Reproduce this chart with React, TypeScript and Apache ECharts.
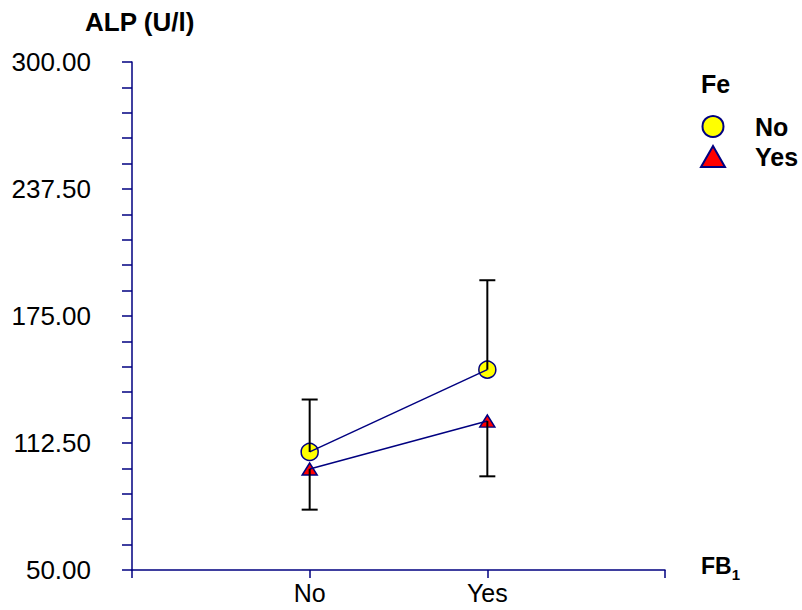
import React, { useEffect, useRef } from "react";
import * as echarts from "echarts";

const categories = ["No", "Yes"];
const seriesNames = ["No", "Yes"];
const meansNo = [108.1, 148.6];
const boundsNo = [133.9, 192.6];
const meansYes = [99.7, 123.3];
const boundsYes = [79.7, 96.1];
const yTickLabels = [50, 112.5, 175, 237.5, 300];

const NAVY = "#000080";
const FONT = "'Liberation Sans', Arial, sans-serif";

export default function App() {
  const ref = useRef<HTMLDivElement>(null);
  useEffect(() => {
    if (!ref.current) return;
    const chart = echarts.init(ref.current, null, { renderer: "svg" });
    const pos = categories.map((_, i) => i + 1);
    const pts = (vals: number[]) => vals.map((v, i) => [pos[i], v]);
    const errData = (means: number[], bounds: number[]) => means.map((m, i) => [pos[i], m, bounds[i]]);
    const renderErr = (params: any, api: any) => {
      const x = api.value(0);
      const p1 = api.coord([x, api.value(1)]);
      const p2 = api.coord([x, api.value(2)]);
      const hw = 8;
      return {
        type: "group",
        children: [
          { type: "line", shape: { x1: p1[0], y1: p1[1], x2: p2[0], y2: p2[1] }, style: { stroke: "#000", lineWidth: 2 } },
          { type: "line", shape: { x1: p2[0] - hw, y1: p2[1], x2: p2[0] + hw, y2: p2[1] }, style: { stroke: "#000", lineWidth: 2 } },
        ],
      };
    };
    chart.setOption({
      animation: false,
      textStyle: { fontFamily: FONT },
      grid: { left: 132, right: 137, top: 62, bottom: 40 },
      xAxis: {
        type: "value",
        min: 0,
        max: 3,
        interval: 1,
        splitLine: { show: false },
        axisLine: { lineStyle: { color: NAVY, width: 1.5 } },
        axisTick: { show: true, length: 8, lineStyle: { color: NAVY, width: 1.5 } },
        axisLabel: {
          fontSize: 25,
          color: "#000",
          margin: 10,
          fontFamily: FONT,
          formatter: (v: number) => (categories[v - 1] !== undefined && Number.isInteger(v) ? categories[v - 1] : ""),
        },
      },
      yAxis: {
        type: "value",
        min: 50,
        max: 300,
        interval: 12.5,
        splitLine: { show: false },
        axisLine: { show: true, lineStyle: { color: NAVY, width: 1.5 } },
        axisTick: { show: true, length: 10, lineStyle: { color: NAVY, width: 1.5 } },
        axisLabel: {
          fontSize: 26,
          color: "#000",
          margin: 41,
          fontFamily: FONT,
          formatter: (v: number) => (yTickLabels.some((t) => Math.abs(t - v) < 1e-6) ? v.toFixed(2) : ""),
        },
      },
      legend: {
        data: seriesNames,
        orient: "vertical",
        left: 695,
        top: 109,
        itemWidth: 24,
        itemHeight: 21,
        itemGap: 5,
        textStyle: {
          fontSize: 25,
          lineHeight: 25,
          fontWeight: "bold",
          color: "#000",
          fontFamily: FONT,
          padding: [0, 0, 0, 25],
        },
      },
      graphic: [
        { type: "text", left: 85, top: 9, style: { text: "ALP (U/l)", font: `bold 26px ${FONT}`, fill: "#000" } },
        { type: "text", left: 701, top: 71, style: { text: "Fe", font: `bold 25px ${FONT}`, fill: "#000" } },
        {
          type: "text",
          left: 701,
          top: 554,
          style: {
            text: "{a|FB}{b|1}",
            rich: {
              a: { font: `bold 23px ${FONT}`, fill: "#000", verticalAlign: "bottom" },
              b: { font: `bold 15px ${FONT}`, fill: "#000", verticalAlign: "bottom", padding: [0, 0, -5, 0] },
            },
          },
        },
      ],
      series: [
        {
          name: seriesNames[0],
          type: "scatter",
          data: pts(meansNo),
          symbol: "circle",
          symbolSize: 17,
          itemStyle: { color: "#ffff00", borderColor: NAVY, borderWidth: 1.5, opacity: 1 },
          z: 2,
        },
        {
          name: seriesNames[1],
          type: "scatter",
          data: pts(meansYes),
          symbol: "triangle",
          symbolSize: [15, 12],
          itemStyle: { color: "#ff0000", borderColor: NAVY, borderWidth: 1.5, opacity: 1 },
          z: 2,
        },
        {
          name: "line-No",
          type: "line",
          data: pts(meansNo),
          symbol: "none",
          lineStyle: { color: NAVY, width: 1.5 },
          z: 3,
        },
        {
          name: "line-Yes",
          type: "line",
          data: pts(meansYes),
          symbol: "none",
          lineStyle: { color: NAVY, width: 1.5 },
          z: 3,
        },
        { name: "err-No", type: "custom", data: errData(meansNo, boundsNo), renderItem: renderErr, z: 4 },
        { name: "err-Yes", type: "custom", data: errData(meansYes, boundsYes), renderItem: renderErr, z: 4 },
      ],
    });
    return () => chart.dispose();
  }, []);
  return <div ref={ref} style={{ width: 802, height: 610, position: "absolute", left: 0, top: 0 }} />;
}
